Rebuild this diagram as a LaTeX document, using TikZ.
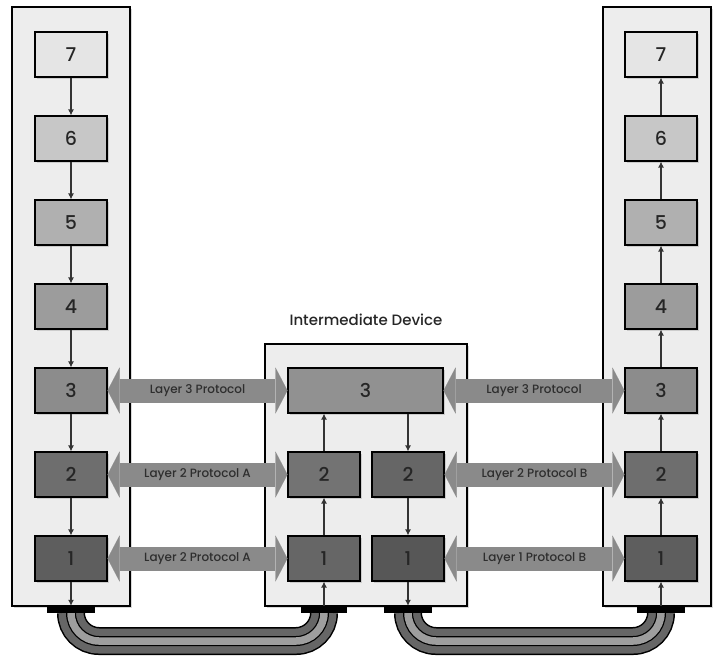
\documentclass[tikz,border=0pt]{standalone}
\usepackage{fontspec}
\setmainfont{Poppins}[BoldFont=* Medium]
\usetikzlibrary{arrows.meta,positioning,shadows}
\tikzset{
  host/.style   ={draw,line width=1.2pt,fill=black!7,
                  drop shadow={shadow xshift=1.5pt,shadow yshift=-1.5pt,opacity=.3}},
  layer/.style  ={rectangle,draw,line width=1.1pt,minimum width=72pt,
                  minimum height=45pt,inner sep=0pt,text=black!85,
                  font=\fontsize{19}{19}\selectfont\bfseries,
                  drop shadow={shadow xshift=1.5pt,shadow yshift=-1.5pt,opacity=.3}},
  plug/.style   ={rectangle,fill=black,minimum width=48pt,minimum height=7pt,
                  inner sep=0pt},
  link/.style   ={-{Latex[length=6pt,width=6pt]},line width=1.2pt,draw=black!80},
  proto/.style  ={{Triangle[width=46pt,length=12pt,line width=0.1pt]}-{Triangle[width=46pt,length=12pt,line width=0.1pt]},
                  line width=24pt,draw=black!46},
  protolbl/.style={text=black!82,font=\fontsize{12}{12}\selectfont\bfseries},
  cable/.style  ={draw=black,line width=28pt,rounded corners=28pt,
                  postaction={draw=black!60,line width=25pt},
                  postaction={draw=black,line width=10pt},
                  postaction={draw=black!38,line width=7.5pt}}
}
\begin{document}
\begin{tikzpicture}[x=1pt,y=-1pt]
  \useasboundingbox (0,0) rectangle (714,657);

  % Devices
  \draw[host] (12,7) rectangle (130,606);
  \draw[host] (265,344) rectangle (467,606);
  \draw[host] (603,7) rectangle (711,606);
  \node[font=\fontsize{15}{15}\selectfont\bfseries,text=black!85] (title) at (366,320) {Intermediate Device};

  % Sender stack
  \node (l7) at (71,54.5)  [layer,fill=black!10] {7};
  \node (l6) at (71,138.5) [layer,fill=black!22] {6};
  \node (l5) at (71,222.5) [layer,fill=black!31] {5};
  \node (l4) at (71,306.5) [layer,fill=black!39] {4};
  \node (l3) at (71,390.5) [layer,fill=black!45] {3};
  \node (l2) at (71,474.5) [layer,fill=black!57] {2};
  \node (l1) at (71,558.5) [layer,fill=black!63] {1};

  % Intermediate stack
  \node (m3)  at (365.5,390.5) [layer,fill=black!43,minimum width=155pt] {3};
  \node (m2a) at (324,474.5)   [layer,fill=black!55] {2};
  \node (m2b) at (408,474.5)   [layer,fill=black!60] {2};
  \node (m1a) at (324,558.5)   [layer,fill=black!60] {1};
  \node (m1b) at (408,558.5)   [layer,fill=black!66] {1};

  % Receiver stack
  \node (r7) at (661,54.5)  [layer,fill=black!10] {7};
  \node (r6) at (661,138.5) [layer,fill=black!22] {6};
  \node (r5) at (661,222.5) [layer,fill=black!31] {5};
  \node (r4) at (661,306.5) [layer,fill=black!39] {4};
  \node (r3) at (661,390.5) [layer,fill=black!45] {3};
  \node (r2) at (661,474.5) [layer,fill=black!57] {2};
  \node (r1) at (661,558.5) [layer,fill=black!63] {1};

  % Connectors and cables
  \node (lplug)  at (71,609.5)  [plug] {};
  \node (mplugA) at (324,609.5) [plug,minimum width=46pt] {};
  \node (mplugB) at (408,609.5) [plug] {};
  \node (rplug)  at (661,609.5) [plug] {};
  \coordinate (run) at (0,641);
  \draw[cable] (lplug.south) -- (lplug.south |- run) -- (mplugA.south |- run) -- (mplugA.south);
  \draw[cable] (mplugB.south) -- (mplugB.south |- run) -- (rplug.south |- run) -- (rplug.south);
  \node at (71,609.5)  [plug] {};
  \node at (324,609.5) [plug,minimum width=46pt] {};
  \node at (408,609.5) [plug] {};
  \node at (661,609.5) [plug] {};

  % Down the sender
  \draw[link] (l7) -- (l6);
  \draw[link] (l6) -- (l5);
  \draw[link] (l5) -- (l4);
  \draw[link] (l4) -- (l3);
  \draw[link] (l3) -- (l2);
  \draw[link] (l2) -- (l1);
  \draw[link] (l1) -- (lplug);

  % Through the intermediate device
  \draw[link] (mplugA) -- (m1a);
  \draw[link] (m1a) -- (m2a);
  \draw[link] (m2a) -- (m2a |- m3.south);
  \draw[link] (m2b |- m3.south) -- (m2b);
  \draw[link] (m2b) -- (m1b);
  \draw[link] (m1b) -- (mplugB);

  % Up the receiver
  \draw[link] (rplug) -- (r1);
  \draw[link] (r1) -- (r2);
  \draw[link] (r2) -- (r3);
  \draw[link] (r3) -- (r4);
  \draw[link] (r4) -- (r5);
  \draw[link] (r5) -- (r6);
  \draw[link] (r6) -- (r7);

  % Peer protocols
  \draw[proto] (l3) -- node[protolbl] {Layer 3 Protocol} (m3);
  \draw[proto] (l2) -- node[protolbl] {Layer 2 Protocol A} (m2a);
  \draw[proto] (l1) -- node[protolbl] {Layer 2 Protocol A} (m1a);
  \draw[proto] (m3) -- node[protolbl] {Layer 3 Protocol} (r3);
  \draw[proto] (m2b) -- node[protolbl] {Layer 2 Protocol B} (r2);
  \draw[proto] (m1b) -- node[protolbl] {Layer 1 Protocol B} (r1);
\end{tikzpicture}
\end{document}
